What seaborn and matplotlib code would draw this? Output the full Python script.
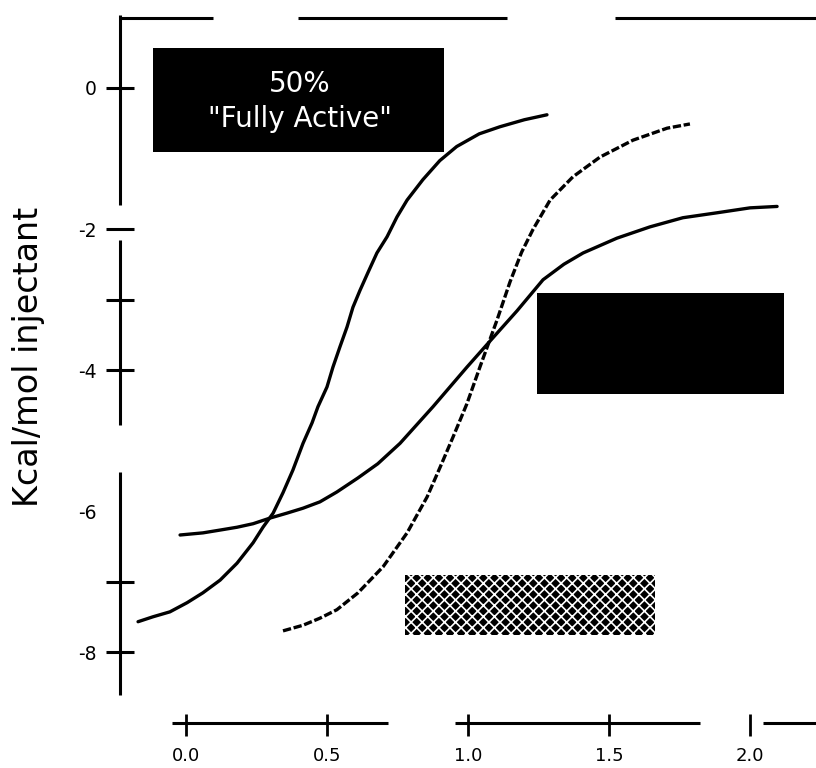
import matplotlib
matplotlib.use("Agg")
import matplotlib.pyplot as plt
import seaborn as sns
import pandas as pd
from matplotlib.patches import Rectangle

# ---- data ----
x_ticks = [0.0, 0.5, 1.0, 1.5, 2.0]
x_tick_labels = ["0.0", "0.5", "1.0", "1.5", "2.0"]
y_ticks = [0, -2, -3, -4, -6, -7, -8]
y_tick_labels = ["0", "-2", "", "-4", "-6", "", "-8"]

curve_a_x = [-0.170, -0.117, -0.057, 0.004, 0.060, 0.121, 0.181, 0.238, 0.273, 0.309,
             0.344, 0.379, 0.415, 0.447, 0.468, 0.500, 0.521, 0.546, 0.571, 0.592,
             0.617, 0.645, 0.677, 0.713, 0.748, 0.784, 0.840, 0.900, 0.960, 1.040,
             1.113, 1.200, 1.280]
curve_a_y = [-7.57, -7.50, -7.43, -7.30, -7.16, -6.98, -6.74, -6.45, -6.23, -6.03,
             -5.74, -5.42, -5.04, -4.75, -4.52, -4.24, -3.96, -3.67, -3.39, -3.11,
             -2.87, -2.62, -2.34, -2.11, -1.83, -1.59, -1.30, -1.03, -0.83, -0.65,
             -0.55, -0.45, -0.38]

curve_b_x = [-0.021, 0.060, 0.121, 0.181, 0.238, 0.298, 0.358, 0.415, 0.475, 0.535,
             0.610, 0.680, 0.759, 0.876, 0.996, 1.078, 1.174, 1.266, 1.340, 1.408,
             1.528, 1.645, 1.762, 1.883, 2.000, 2.096]
curve_b_y = [-6.34, -6.31, -6.27, -6.23, -6.18, -6.10, -6.03, -5.96, -5.87, -5.73,
             -5.53, -5.33, -5.04, -4.52, -3.96, -3.59, -3.16, -2.72, -2.50, -2.34,
             -2.13, -1.97, -1.84, -1.77, -1.70, -1.68]

curve_c_x = [0.344, 0.415, 0.475, 0.535, 0.610, 0.699, 0.784, 0.855, 0.901, 0.947,
             0.996, 1.043, 1.103, 1.149, 1.190, 1.230, 1.291, 1.372, 1.468, 1.585,
             1.706, 1.787]
curve_c_y = [-7.70, -7.62, -7.52, -7.40, -7.16, -6.79, -6.31, -5.80, -5.38, -4.95,
             -4.48, -3.95, -3.29, -2.75, -2.33, -2.01, -1.59, -1.26, -0.98, -0.74,
             -0.57, -0.51]

y_label = "Kcal/mol injectant"
box_text = "50%\n\"Fully Active\""

# ---- style ----
sns.set_style("white")
plt.rcParams["font.family"] = ["DejaVu Sans"]
plt.rcParams["hatch.linewidth"] = 1.2

fig = plt.figure(figsize=(8.16, 7.68), dpi=100)
ax = fig.add_axes([120 / 816, 43 / 768, 685 / 816, 708 / 768])
ax.set_xlim(-0.234, 2.195)
ax.set_ylim(-9.035, 1.007)

df_a = pd.DataFrame({"x": curve_a_x, "y": curve_a_y})
df_b = pd.DataFrame({"x": curve_b_x, "y": curve_b_y})
df_c = pd.DataFrame({"x": curve_c_x, "y": curve_c_y})

line_kw = dict(color="black", linewidth=2.4, sort=False, estimator=None,
               solid_joinstyle="round", dash_joinstyle="round")
sns.lineplot(data=df_a, x="x", y="y", ax=ax, **line_kw)
sns.lineplot(data=df_b, x="x", y="y", ax=ax, **line_kw)
sns.lineplot(data=df_c, x="x", y="y", ax=ax, linestyle=(0, (2.5, 0.8)), **line_kw)

# ---- axes decoration ----
for s in ax.spines.values():
    s.set_visible(False)

# broken axis lines (axes-fraction layout)
left_segments = [(1.003, 0.734), (0.685, 0.424), (0.357, 0.042)]
top_segments = [(0.0, 0.136), (0.26, 0.565), (0.723, 1.016)]
bottom_segments = [(0.076, 0.391), (0.489, 0.847), (0.939, 1.016)]
for y0, y1 in left_segments:
    ax.plot([0, 0], [y0, y1], transform=ax.transAxes, color="black", lw=2.2,
            clip_on=False, solid_capstyle="butt")
for x0, x1 in top_segments:
    ax.plot([x0, x1], [0.9986, 0.9986], transform=ax.transAxes, color="black",
            lw=2.2, clip_on=False, solid_capstyle="butt")
for x0, x1 in bottom_segments:
    ax.plot([x0, x1], [0.003, 0.003], transform=ax.transAxes, color="black",
            lw=2.2, clip_on=False, solid_capstyle="butt")

ax.set_xticks(x_ticks)
ax.set_xticklabels(x_tick_labels)
ax.set_yticks(y_ticks)
ax.set_yticklabels(y_tick_labels)
ax.tick_params(axis="y", direction="inout", length=20, width=2.2, pad=6.5,
               labelsize=13.5, left=True, right=False, colors="black")
ax.tick_params(axis="x", direction="inout", length=16, width=2.0, pad=8,
               labelsize=13, bottom=True, top=False, colors="black")
# the -6 tick mark is missing in the reference
ax.yaxis.get_major_ticks()[4].tick1line.set_visible(False)

ax.set_xlabel("")
ax.set_ylabel(y_label, fontsize=24, color="black")
ax.yaxis.set_label_coords(-0.11, 0.52)

# ---- annotation boxes ----
ax.add_patch(Rectangle((0.048, 0.809), 0.425, 0.147, transform=ax.transAxes,
                       facecolor="black", edgecolor="none", zorder=5))
ax.text(0.262, 0.881, box_text, transform=ax.transAxes, ha="center", va="center",
        color="white", fontsize=20, linespacing=1.3, zorder=6)

ax.add_patch(Rectangle((0.609, 0.4675), 0.36, 0.1425, transform=ax.transAxes,
                       facecolor="black", edgecolor="none", zorder=5))

ax.add_patch(Rectangle((0.416, 0.127), 0.365, 0.085, transform=ax.transAxes,
                       facecolor="black", edgecolor="white", linewidth=0,
                       hatch="xxx", zorder=5))

fig.savefig("out.png", dpi=100, facecolor="white")
